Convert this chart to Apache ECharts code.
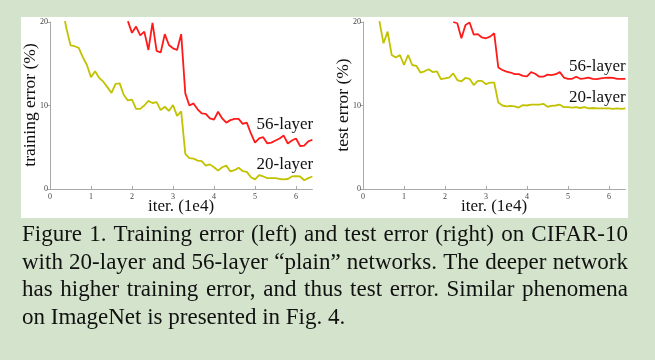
<!DOCTYPE html>
<html>
<head>
<meta charset="utf-8">
<script src="https://cdn.jsdelivr.net/npm/echarts@6/dist/echarts.min.js"></script>
<style>
html,body{margin:0;padding:0;background:#d4e3cb;}
#c{width:655px;height:360px;}
</style>
</head>
<body>
<div id="c"></div>
<script>
// iteration values (1e4)
const iters = [0.3,0.4,0.5,0.6,0.7,0.8,0.9,1.0,1.1,1.2,1.3,1.4,1.5,1.6,1.7,1.8,1.9,2.0,2.1,2.2,2.3,2.4,2.5,2.6,2.7,2.8,2.9,3.0,3.1,3.2,3.3,3.4,3.5,3.6,3.7,3.8,3.9,4.0,4.1,4.2,4.3,4.4,4.5,4.6,4.7,4.8,4.9,5.0,5.1,5.2,5.3,5.4,5.5,5.6,5.7,5.8,5.9,6.0,6.1,6.2,6.3,6.4];
const xTicks = [0,1,2,3,4,5,6];
const yTicks = [0,10,20];

// training error (%), starting at iter 0.3
const train20 = [21.75,19.25,17.2,17.1,16.9,15.8,14.85,13.4,14.1,13.3,12.85,12.2,11.5,12.6,12.65,11.25,10.6,10.7,9.6,9.6,10.0,10.55,10.3,10.4,9.45,9.85,9.35,10.05,8.75,9.3,4.2,3.7,3.65,3.4,3.35,2.8,2.95,2.6,2.2,2.6,2.8,2.1,2.25,2.55,2.15,2.05,1.4,1.15,1.65,1.5,1.3,1.3,1.3,1.2,1.15,1.2,1.5,1.55,1.5,1.05,1.3,1.5];
// training error (%), starting at iter 1.9
const train56 = [20.1,18.7,19.45,18.4,18.85,16.65,19.9,16.55,16.35,18.55,17.25,16.85,16.65,18.55,11.45,10.0,10.25,9.55,9.05,9.0,8.45,8.3,9.25,8.45,7.95,8.25,8.4,8.4,7.8,7.95,6.65,5.55,6.05,6.2,5.45,5.55,5.8,6.05,6.4,5.45,5.8,6.05,5.15,5.2,5.7,5.9];
// test error (%), starting at iter 0.4
const test20 = [20.1,17.45,18.85,16.05,15.75,16.05,14.85,16.05,14.85,14.75,13.95,14.1,14.35,14.0,14.1,13.15,13.25,13.35,13.85,13.05,12.9,13.3,13.2,12.45,12.95,12.95,12.55,12.75,12.75,10.35,10.0,9.9,9.95,9.9,9.75,10.05,10.0,10.1,10.1,10.1,10.2,9.85,9.95,10.0,10.1,9.8,9.8,9.75,9.8,9.7,9.8,9.65,9.7,9.65,9.65,9.65,9.65,9.6,9.65,9.6,9.65];
// test error (%), starting at iter 2.2
const test56 = [20.0,19.85,18.05,19.65,19.95,18.5,18.55,18.15,18.05,18.25,18.65,14.55,14.25,14.05,13.95,13.75,13.75,13.55,13.5,14.0,13.8,13.45,13.45,13.7,13.65,13.75,14.0,13.35,13.2,13.2,13.45,13.2,13.25,13.35,13.2,13.15,13.25,13.3,13.35,13.3,13.2,13.2,13.2];

const captionLines = [
  "Figure 1. Training error (left) and test error (right) on CIFAR-10",
  "with 20-layer and 56-layer \u201cplain\u201d networks. The deeper network",
  "has higher training error, and thus test error.  Similar phenomena",
  "on ImageNet is presented in Fig. 4."
];

function pairs(start, vals){
  const i0 = iters.indexOf(start);
  return vals.map((v,i)=>[iters[i0+i], v]);
}

const SERIF = '"Liberation Serif", "Times New Roman", serif';
const RED = '#ff1a1a', YEL = '#c2c200';

function xAxis(gi){
  return {
    type:'value', gridIndex:gi, min:0, max:6.4, interval:1,
    axisLine:{show:true, lineStyle:{color:'#a8a8a8', width:1}},
    axisTick:{show:true, inside:true, length:3, lineStyle:{color:'#a8a8a8'}, customValues:xTicks},
    axisLabel:{show:true, customValues:xTicks, fontSize:8, fontFamily:SERIF, color:'#444', margin:4},
    splitLine:{show:false}
  };
}
function yAxis(gi){
  return {
    type:'value', gridIndex:gi, min:0, max:20, interval:10,
    axisLine:{show:true, lineStyle:{color:'#a8a8a8', width:1}},
    axisTick:{show:true, inside:false, length:3, lineStyle:{color:'#a8a8a8'}, customValues:yTicks},
    axisLabel:{show:true, customValues:yTicks, fontSize:8, fontFamily:SERIF, color:'#444', margin:2},
    splitLine:{show:false}
  };
}
function line(gi, data, color){
  return {type:'line', xAxisIndex:gi, yAxisIndex:gi, data:data, showSymbol:false, symbol:'none',
    clip:true, lineStyle:{color:color, width:1.8}, itemStyle:{color:color}, animation:false};
}

// caption layout (justified)
const cv = document.createElement('canvas').getContext('2d');
const capFont = 23;
cv.font = capFont + 'px ' + SERIF;
const capLeft = 22, capRight = 628, capY0 = 235, capDy = 27.7;
const graphics = [];
graphics.push({type:'rect', shape:{x:21, y:17, width:607, height:201}, style:{fill:'#ffffff'}, z:-10, silent:true});
captionLines.forEach((ln, li)=>{
  const y = capY0 + li*capDy;
  if (li === captionLines.length-1){
    graphics.push({type:'text', x:capLeft, y:y, style:{text:ln, fontSize:capFont, fontFamily:SERIF, fill:'#111', align:'left', verticalAlign:'middle'}});
    return;
  }
  const words = ln.split(/\s+/);
  const ws = words.map(w=>cv.measureText(w).width);
  const total = ws.reduce((a,b)=>a+b,0);
  const gap = (capRight - capLeft - total)/(words.length-1);
  let x = capLeft;
  words.forEach((w,i)=>{
    graphics.push({type:'text', x:x, y:y, style:{text:w, fontSize:capFont, fontFamily:SERIF, fill:'#111', align:'left', verticalAlign:'middle'}});
    x += ws[i] + gap;
  });
});
// axis titles
function t(text, x, y, size, rot, align){
  graphics.push({type:'text', x:x, y:y, rotation:rot||0, style:{text:text, fontSize:size, fontFamily:SERIF, fill:'#111', align:align||'center', verticalAlign:'middle'}});
}
t('training error (%)', 30, 105, 17.5, Math.PI/2);
t('test error (%)', 343, 105, 17.5, Math.PI/2);
t('iter. (1e4)', 181, 207, 17, 0);
t('iter. (1e4)', 494, 207, 17, 0);
t('56-layer', 256.5, 124.5, 17, 0, 'left');
t('20-layer', 256.5, 165, 17, 0, 'left');
t('56-layer', 569, 66.8, 17, 0, 'left');
t('20-layer', 569, 97.2, 17, 0, 'left');

const chart = echarts.init(document.getElementById('c'), null, {renderer:'canvas'});
chart.setOption({
  backgroundColor:'#d4e3cb',
  animation:false,
  grid:[
    {left:50, top:22, width:262.4, height:167},
    {left:363, top:22, width:262.4, height:167}
  ],
  xAxis:[xAxis(0), xAxis(1)],
  yAxis:[yAxis(0), yAxis(1)],
  series:[
    line(0, pairs(0.3, train20), YEL),
    line(0, pairs(1.9, train56), RED),
    line(1, pairs(0.4, test20), YEL),
    line(1, pairs(2.2, test56), RED)
  ],
  graphic:graphics
});
</script>
</body>
</html>
